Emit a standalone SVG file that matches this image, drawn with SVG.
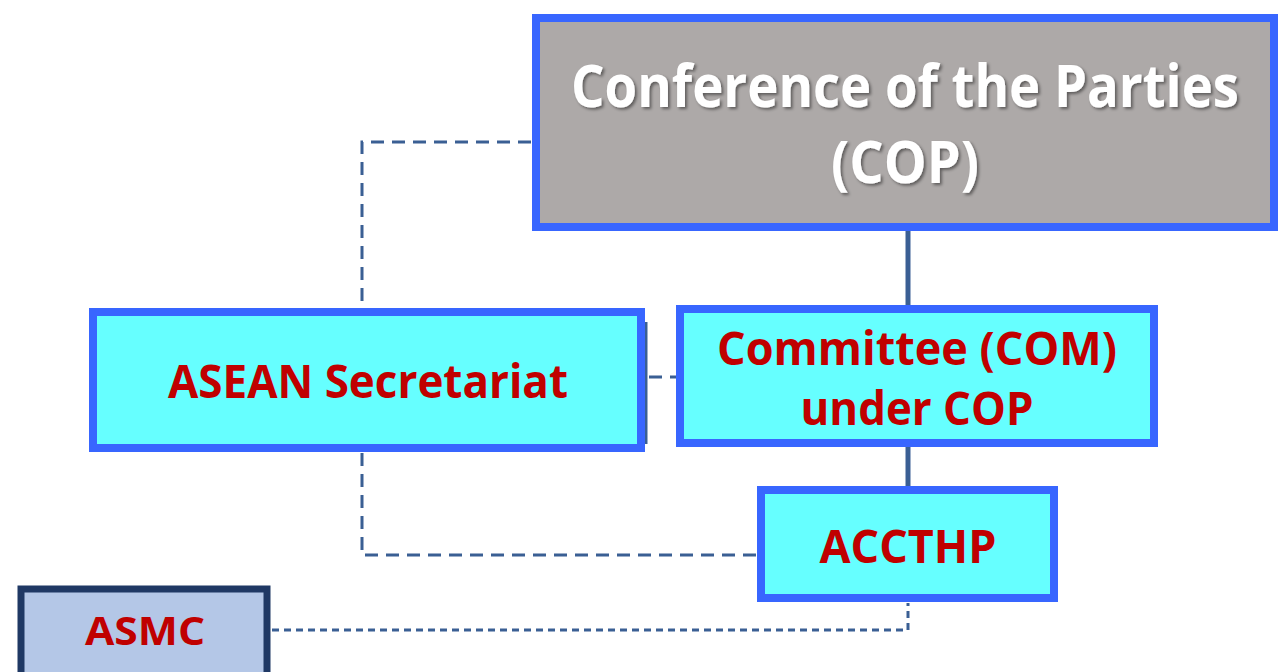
<svg xmlns="http://www.w3.org/2000/svg" width="1288" height="672" viewBox="0 0 1288 672">
<style>
.box{fill:#66FFFF;stroke:#3866FF;stroke-width:8}
.lbl{font-family:"Open Sans","Liberation Sans",sans-serif;font-weight:bold;fill:#C00000;text-anchor:middle}
.solid{stroke:#3A5F94;stroke-width:5;fill:none}
.dash{stroke:#3A5F94;stroke-width:3;fill:none;stroke-dasharray:13 8}
.dot{stroke:#3A5F94;stroke-width:3;fill:none;stroke-dasharray:7 5}
</style>
<defs>
<filter id="sh" filterUnits="userSpaceOnUse" x="540" y="22" width="730" height="200">
<feDropShadow dx="2" dy="2" stdDeviation="1.5" flood-color="#000" flood-opacity="0.45"/>
</filter>
</defs>
<rect width="1288" height="672" fill="#FFFFFF"/>
<g id="connectors">
<line class="solid" x1="908" y1="231" x2="908" y2="305"/>
<line class="solid" x1="908" y1="447" x2="908" y2="486"/>
<path class="dash" d="M531 142 H362 V308"/>
<path class="dash" d="M649 377 H676"/>
<path class="dash" d="M362 453 V555 H757"/>
<path class="dot" d="M272 630 H908 V603"/>
</g>
<g id="cop">
<rect x="536" y="18" width="738" height="209" fill="#ADA9A8" stroke="#3866FF" stroke-width="8"/>
<g filter="url(#sh)" font-family="'Open Sans','Liberation Sans',sans-serif" font-weight="bold" fill="#FFFFFF" text-anchor="middle" font-size="52">
<text transform="translate(905,107) scale(1,1.12)" x="0" y="0" textLength="668" lengthAdjust="spacingAndGlyphs">Conference of the Parties</text>
<text transform="translate(905,183) scale(1,1.12)" x="0" y="0" textLength="148" lengthAdjust="spacingAndGlyphs">(COP)</text>
</g>
</g>
<g id="asean">
<line x1="646" y1="322" x2="646" y2="444" stroke="#3A5F94" stroke-width="3"/>
<rect class="box" x="93" y="312" width="548" height="136"/>
<text class="lbl" x="368" y="398" font-size="46" textLength="400" lengthAdjust="spacingAndGlyphs">ASEAN Secretariat</text>
</g>
<g id="com">
<rect class="box" x="680" y="309" width="474" height="134"/>
<text class="lbl" x="917" y="365" font-size="46" textLength="400" lengthAdjust="spacingAndGlyphs">Committee (COM)</text>
<text class="lbl" x="917" y="425" font-size="46" textLength="233" lengthAdjust="spacingAndGlyphs">under COP</text>
</g>
<g id="accthp">
<rect class="box" x="761" y="490" width="293" height="108"/>
<text class="lbl" x="908" y="563" font-size="46" textLength="177" lengthAdjust="spacingAndGlyphs">ACCTHP</text>
</g>
<g id="asmc">
<rect x="21" y="589" width="246" height="92" fill="#B4C7E7" stroke="#1F3864" stroke-width="7"/>
<text class="lbl" x="145" y="645" font-size="40" textLength="120" lengthAdjust="spacingAndGlyphs">ASMC</text>
</g>
</svg>
